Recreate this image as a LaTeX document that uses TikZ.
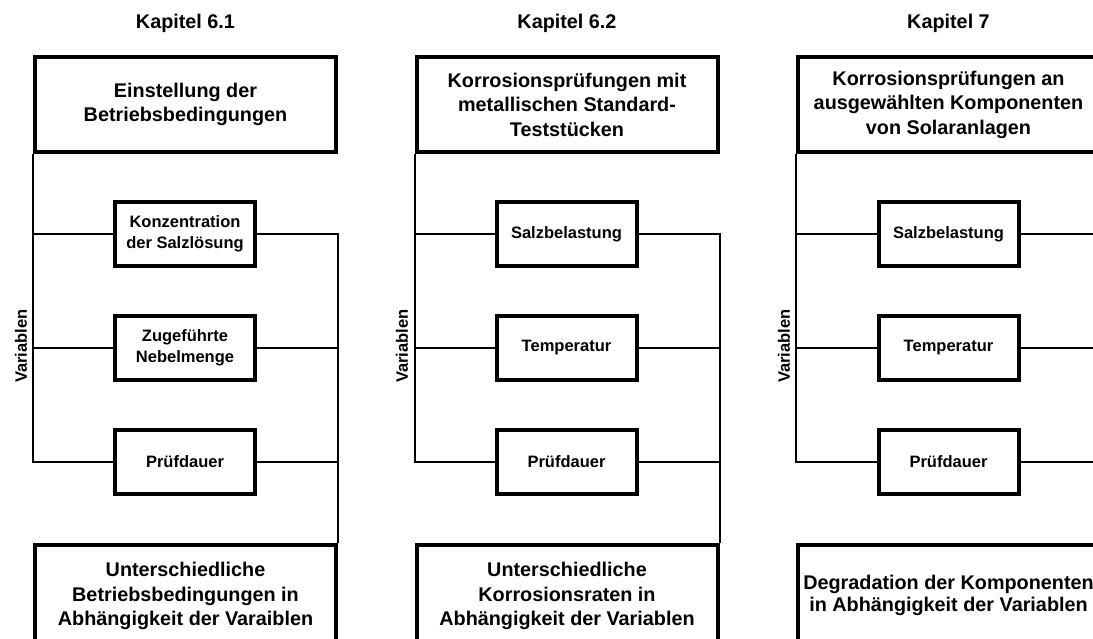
\documentclass[tikz,border=0pt]{standalone}
\usepackage{fontspec}
\setmainfont{Liberation Sans}
\newcommand\bigtxt{\fontsize{19.8}{24.5}\selectfont\bfseries}
\newcommand\smalltxt{\fontsize{16.5}{21}\selectfont\bfseries}
\newcommand\liftlines[2][7pt]{\raisebox{#1}{\begin{tabular}{@{}c@{}}#2\end{tabular}}}
\tikzset{
  bigbox/.style={draw, line width=4pt, minimum width=301pt, minimum height=95pt, align=center, font=\bigtxt, inner sep=1pt},
  bottombox/.style={bigbox, minimum height=104pt},
  smallbox/.style={draw, line width=4pt, minimum width=140pt, minimum height=64pt, align=center, font=\smalltxt, inner sep=1pt},
  conn/.style={line width=2pt},
  ttl/.style={font=\bigtxt, anchor=base, inner sep=0pt},
  varlabel/.style={font=\smalltxt, rotate=90, inner sep=0pt}
}
\begin{document}
\begin{tikzpicture}[x=1pt,y=-1pt]
\clip (0,0) rectangle (1093,638);
\fill[white] (0,0) rectangle (1093,638);

% ---------- Column 1 ----------
\node[ttl] (k1) at (185.5,28) {Kapitel 6.1};
\node[bigbox] (t1) at (185.5,104.5) {Einstellung der\\Betriebsbedingungen};
\node[smallbox] (a1) at (185,234) {Konzentration\\der Salzlösung};
\node[smallbox] (m1) at (185,348) {Zugeführte\\Nebelmenge};
\node[smallbox] (p1) at (185,462) {Prüfdauer};
\node[bottombox] (b1) at (185.5,596.5) {\liftlines{Unterschiedliche\\Betriebsbedingungen in\\Abhängigkeit der Varaiblen}};
\node[varlabel] (v1) at (21,346) {Variablen};
\draw[conn] (t1.south west) |- (p1.west);
\draw[conn] (a1.west) -- (a1.west -| t1.west);
\draw[conn] (m1.west) -- (m1.west -| t1.west);
\draw[conn] (a1.east) -| (b1.north east);
\draw[conn] (m1.east) -- (m1.east -| b1.east);
\draw[conn] (p1.east) -- (p1.east -| b1.east);

% ---------- Column 2 ----------
\node[ttl] (k2) at (567,28) {Kapitel 6.2};
\node[bigbox] (t2) at (567,104.5) {Korrosionsprüfungen mit\\metallischen Standard-\\Teststücken};
\node[smallbox] (a2) at (566.5,234) {Salzbelastung};
\node[smallbox] (m2) at (566.5,348) {Temperatur};
\node[smallbox] (p2) at (566.5,462) {Prüfdauer};
\node[bottombox] (b2) at (567,596.5) {\liftlines{Unterschiedliche\\Korrosionsraten in\\Abhängigkeit der Variablen}};
\node[varlabel] (v2) at (402,346) {Variablen};
\draw[conn] (t2.south west) |- (p2.west);
\draw[conn] (a2.west) -- (a2.west -| t2.west);
\draw[conn] (m2.west) -- (m2.west -| t2.west);
\draw[conn] (a2.east) -| (b2.north east);
\draw[conn] (m2.east) -- (m2.east -| b2.east);
\draw[conn] (p2.east) -- (p2.east -| b2.east);

% ---------- Column 3 ----------
\node[ttl] (k3) at (948.5,28) {Kapitel 7};
\node[bigbox] (t3) at (948.5,104.5) {Korrosionsprüfungen an\\ausgewählten Komponenten\\von Solaranlagen};
\node[smallbox] (a3) at (948.5,234) {Salzbelastung};
\node[smallbox] (m3) at (948.5,348) {Temperatur};
\node[smallbox] (p3) at (948.5,462) {Prüfdauer};
\node[bottombox, font=\fontsize{19.8}{22}\selectfont\bfseries] (b3) at (948.5,596.5) {\liftlines[6pt]{Degradation der Komponenten\\in Abhängigkeit der Variablen}};
\node[varlabel] (v3) at (784,346) {Variablen};
\draw[conn] (t3.south west) |- (p3.west);
\draw[conn] (a3.west) -- (a3.west -| t3.west);
\draw[conn] (m3.west) -- (m3.west -| t3.west);
\draw[conn] (a3.east) -| (b3.north east);
\draw[conn] (m3.east) -- (m3.east -| b3.east);
\draw[conn] (p3.east) -- (p3.east -| b3.east);
\end{tikzpicture}
\end{document}
